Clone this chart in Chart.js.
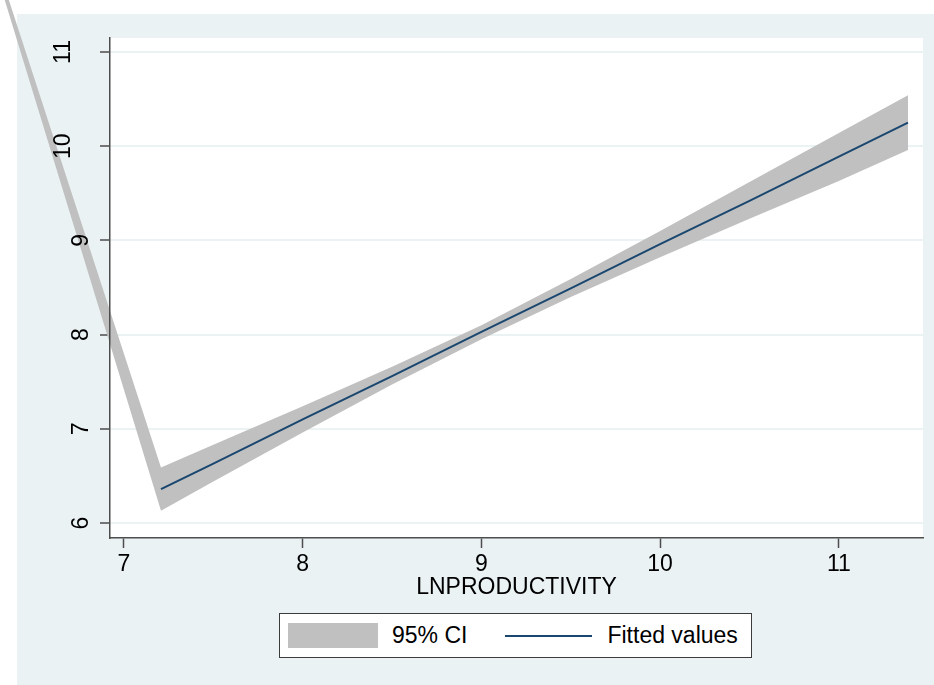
<!DOCTYPE html>
<html lang="en">
<head>
    <meta charset="UTF-8">
    <title>LNPRODUCTIVITY - fitted values with 95% CI</title>
    <script src="https://cdn.jsdelivr.net/npm/chart.js@4.4.1/dist/chart.umd.min.js"></script>
    <style>
        body {
            margin: 0;
            background: #fff;
            font-family: 'Liberation Sans', Arial, sans-serif;
        }
        .wrap {
            position: relative;
            width: 934px;
            height: 685px;
        }
        canvas {
            position: absolute;
            left: 0;
            top: 0;
        }
        .legend {
            position: absolute;
            left: 279px;
            top: 613px;
            height: 43px;
            border: 1px solid #3c3c3c;
            background: #fff;
            display: flex;
            align-items: center;
            padding: 0 13px 0 8px;
            font-size: 23px;
            color: #000;
        }
        .legend-item {
            display: flex;
            align-items: center;
        }
        .swatch {
            width: 90px;
            height: 25px;
            background: #c0c0c0;
            margin-right: 14px;
        }
        .sample {
            width: 87px;
            height: 2px;
            background: #1a476f;
            margin-left: 38px;
            margin-right: 15px;
        }
    </style>
</head>
<body>
<div class="wrap">
    <canvas id="chart" width="934" height="685"></canvas>
    <div class="legend" id="legend"></div>
</div>

<script>
    // values
    const ciX      = [5.97, 7.207, 7.5, 8, 8.5, 9, 9.5, 10, 10.5, 11, 11.387];
    const ciUpper  = [13.8, 6.59, 6.83, 7.24, 7.66, 8.10, 8.59, 9.10, 9.62, 10.14, 10.54];
    const ciLower  = [13.8, 6.13, 6.44, 6.96, 7.47, 7.95, 8.40, 8.82, 9.23, 9.63, 9.96];
    const fitX     = [7.207, 7.5, 8, 8.5, 9, 9.5, 10, 10.5, 11, 11.387];
    const fitVals  = [6.36, 6.63, 7.10, 7.56, 8.03, 8.49, 8.96, 9.42, 9.89, 10.25];
    const xTicks   = [7, 8, 9, 10, 11];
    const yTicks   = [6, 7, 8, 9, 10, 11];
    const legendLabels = ['95% CI', 'Fitted values'];

    const FONT = "'Liberation Sans', Arial, sans-serif";
    const AXIS = '#4d4d4d';
    Chart.defaults.font.family = FONT;

    const toPts = (xs, ys) => xs.map((v, i) => ({x: v, y: ys[i]}));

    // Stata-like background, unclipped CI area and rotated y labels
    const stataPlugin = {
        id: 'stata',
        beforeDraw(chart) {
            const {ctx, chartArea: a} = chart;
            ctx.save();
            ctx.fillStyle = '#fff';
            ctx.fillRect(0, 0, chart.width, chart.height);
            ctx.fillStyle = '#eaf2f3';
            ctx.fillRect(17, 14, chart.width - 17, chart.height - 14);
            ctx.fillStyle = '#fff';
            ctx.fillRect(a.left, a.top, a.right - a.left, a.bottom - a.top);
            ctx.restore();
        },
        beforeDatasetsDraw(chart) {
            const {ctx, scales: {x, y}} = chart;
            const up = chart.data.datasets[0].data;
            const lo = chart.data.datasets[1].data;
            ctx.save();
            ctx.beginPath();
            up.forEach((p, i) => {
                const px = x.getPixelForValue(p.x), py = y.getPixelForValue(p.y);
                if (i === 0) ctx.moveTo(px, py); else ctx.lineTo(px, py);
            });
            for (let i = lo.length - 1; i >= 0; i--) {
                ctx.lineTo(x.getPixelForValue(lo[i].x), y.getPixelForValue(lo[i].y));
            }
            ctx.closePath();
            ctx.fillStyle = '#c0c0c0';
            ctx.fill();
            ctx.restore();
        },
        afterDraw(chart) {
            const {ctx, scales: {y}} = chart;
            ctx.save();
            ctx.font = '23px ' + FONT;
            ctx.fillStyle = '#000';
            ctx.textAlign = 'center';
            ctx.textBaseline = 'middle';
            yTicks.forEach(v => {
                const label = String(v);
                const cx = y.right - 28.5 - (label.length - 1) * 18;
                ctx.save();
                ctx.translate(cx, y.getPixelForValue(v));
                ctx.rotate(-Math.PI / 2);
                ctx.fillText(label, 0, 0);
                ctx.restore();
            });
            ctx.restore();
        }
    };

    new Chart(document.getElementById('chart'), {
        type: 'line',
        data: {
            datasets: [
                { label: 'upper', data: toPts(ciX, ciUpper), showLine: false, pointRadius: 0 },
                { label: 'lower', data: toPts(ciX, ciLower), showLine: false, pointRadius: 0 },
                {
                    label: legendLabels[1],
                    data: toPts(fitX, fitVals),
                    borderColor: '#1a476f',
                    borderWidth: 2,
                    pointRadius: 0,
                    tension: 0
                }
            ]
        },
        options: {
            responsive: false,
            animation: false,
            events: [],
            layout: { padding: { left: 0, top: 38, right: 11, bottom: 0 } },
            plugins: { legend: { display: false }, tooltip: { enabled: false } },
            scales: {
                x: {
                    type: 'linear',
                    min: 6.9217,
                    max: 11.471,
                    afterBuildTicks: s => { s.ticks = xTicks.map(v => ({value: v})); },
                    afterFit: s => { s.height = 147; },
                    grid: { drawOnChartArea: false, drawTicks: true, tickLength: 10, tickColor: AXIS, tickWidth: 1.5 },
                    border: { display: true, color: AXIS, width: 1.5, z: 1 },
                    ticks: { color: '#000', font: { size: 23 }, padding: 3, maxRotation: 0, autoSkip: false, z: 1 },
                    title: {
                        display: true,
                        text: 'LNPRODUCTIVITY',
                        color: '#000',
                        font: { size: 23 },
                        padding: { top: 0, bottom: 84 }
                    }
                },
                y: {
                    type: 'linear',
                    min: 5.8408,
                    max: 11.1486,
                    afterBuildTicks: s => { s.ticks = yTicks.map(v => ({value: v})); },
                    afterFit: s => { s.width = 110; },
                    grid: { color: '#eaf2f3', lineWidth: 2, drawTicks: true, tickLength: 10, tickColor: AXIS, tickWidth: 1.5 },
                    border: { display: true, color: AXIS, width: 1.5, z: 1 },
                    ticks: { color: 'rgba(0,0,0,0)', font: { size: 23 } }
                }
            }
        },
        plugins: [stataPlugin]
    });

    // legend box under the plot
    const legend = document.getElementById('legend');
    legendLabels.forEach((label, i) => {
        const item = document.createElement('div');
        item.className = 'legend-item';
        const mark = document.createElement('div');
        mark.className = i === 0 ? 'swatch' : 'sample';
        const text = document.createElement('span');
        text.textContent = label;
        item.appendChild(mark);
        item.appendChild(text);
        legend.appendChild(item);
    });
</script>
</body>
</html>
